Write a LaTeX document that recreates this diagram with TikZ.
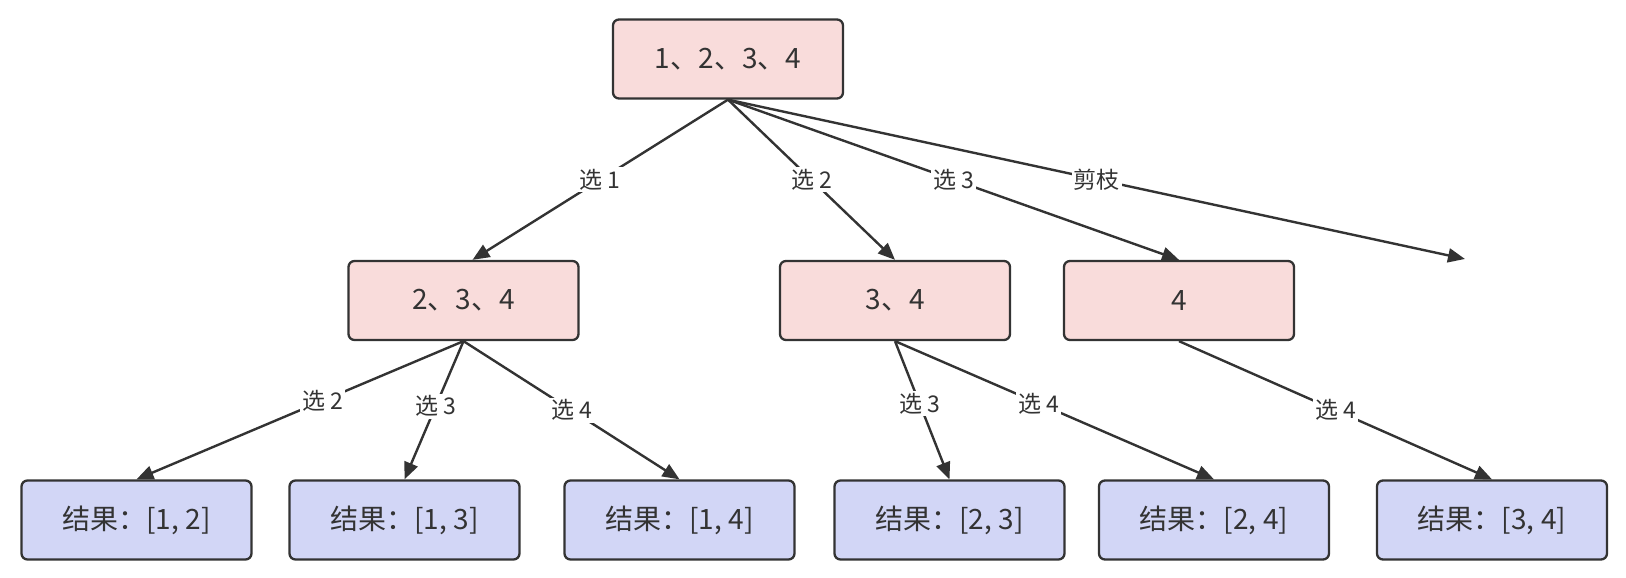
\documentclass[tikz,border=0pt]{standalone}
\usepackage{fontspec}
\setmainfont{Noto Sans CJK SC}
\usepackage{tikz}
\usetikzlibrary{arrows.meta, positioning}
\definecolor{edgegray}{HTML}{333333}
\definecolor{setpink}{HTML}{F9DCDB}
\definecolor{resblue}{HTML}{D2D6F6}
\tikzset{
  setbox/.style={
    rectangle, rounded corners=6pt,
    minimum width=230pt, minimum height=79pt,
    text centered, draw=edgegray, line width=2.3pt,
    fill=setpink, text=edgegray, font=\fontsize{28}{33}\selectfont,
  },
  resbox/.style={
    rectangle, rounded corners=6pt,
    minimum width=230pt, minimum height=79pt,
    text centered, draw=edgegray, line width=2.3pt,
    fill=resblue, text=edgegray, font=\fontsize{28}{33}\selectfont,
  },
  arrow/.style={-{Triangle[length=17pt, width=14pt]}, line width=2.4pt, color=edgegray},
  choice/.style={fill=white, inner sep=2pt, text=edgegray, font=\fontsize{23}{27}\selectfont},
}
\begin{document}
\begin{tikzpicture}[x=1pt, y=-1pt]
  \useasboundingbox (0,0) rectangle (1626,578);

  % sets still to choose from
  \node[setbox] (all) at (728,59) {1、2、3、4};
  \node[setbox] (rest234) at (463.5,300.5) {2、3、4};
  \node[setbox] (rest34) at (895,300.5) {3、4};
  \node[setbox] (rest4) at (1179,300.5) {4};
  \coordinate (cut) at (1465,259);

  % results
  \node[resbox] (r12) at (136.5,520) {结果：[1, 2]};
  \node[resbox] (r13) at (404.5,520) {结果：[1, 3]};
  \node[resbox] (r14) at (679.5,520) {结果：[1, 4]};
  \node[resbox] (r23) at (949.5,520) {结果：[2, 3]};
  \node[resbox] (r24) at (1214,520) {结果：[2, 4]};
  \node[resbox] (r34) at (1492,520) {结果：[3, 4]};

  \draw[arrow] (all.south) -- node[choice]{选 1} ([xshift=9pt]rest234.north);
  \draw[arrow] (all.south) -- node[choice]{选 2} (rest34.north);
  \draw[arrow] (all.south) -- node[choice]{选 3} (rest4.north);
  \draw[arrow] (all.south) -- node[choice]{剪枝} (cut);

  \draw[arrow] (rest234.south) -- node[choice, pos=0.43]{选 2} (r12.north);
  \draw[arrow] (rest234.south) -- node[choice, pos=0.47]{选 3} (r13.north);
  \draw[arrow] (rest234.south) -- node[choice, pos=0.5]{选 4} (r14.north);

  \draw[arrow] (rest34.south) -- node[choice, pos=0.45]{选 3} (r23.north);
  \draw[arrow] (rest34.south) -- node[choice, pos=0.45]{选 4} (r24.north);

  \draw[arrow] (rest4.south) -- node[choice]{选 4} (r34.north);

\end{tikzpicture}
\end{document}
